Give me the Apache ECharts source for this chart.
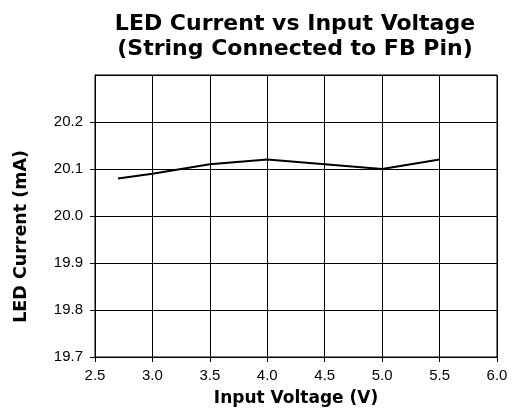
<!DOCTYPE html>
<html><head><meta charset="utf-8">
<script src="https://cdn.jsdelivr.net/npm/echarts@6/dist/echarts.min.js"></script>
<style>html,body{margin:0;padding:0;background:#fff}#c{width:513px;height:408px}</style>
</head><body><div id="c"></div>
<script>
const voltages = [2.7, 3.0, 3.5, 4.0, 4.5, 5.0, 5.5];
const currents = [20.08, 20.09, 20.11, 20.12, 20.11, 20.10, 20.12];
const titleLines = ['LED Current vs Input Voltage', '(String Connected to FB Pin)'];
const xName = 'Input Voltage (V)';
const yName = 'LED Current (mA)';

const chart = echarts.init(document.getElementById('c'), null, {renderer: 'canvas'});
const font = 'Liberation Sans, Arial, sans-serif';
const boldFont = 'DejaVu Sans, sans-serif';
chart.setOption({
  animation: false,
  backgroundColor: '#fff',
  title: {
    text: titleLines.join('\n'),
    left: 290, top: 7, textAlign: 'center',
    textStyle: {fontFamily: boldFont, fontSize: 22, fontWeight: 'bold', color: '#000', lineHeight: 25}
  },
  grid: {left: 95, top: 75, right: 16, bottom: 51, show: true, borderColor: '#000', borderWidth: 1,
         containLabel: false, outerBoundsMode: 'none'},
  xAxis: {
    type: 'value', min: 2.5, max: 6.0, interval: 0.5,
    name: xName, nameLocation: 'middle', nameGap: 33,
    nameTextStyle: {fontFamily: boldFont, fontSize: 17, fontWeight: 'bold', color: '#000'},
    axisLine: {lineStyle: {color: '#000'}},
    axisTick: {show: true, length: 5, lineStyle: {color: '#000'}},
    axisLabel: {fontFamily: font, fontSize: 15, color: '#000', margin: 11, formatter: v => v.toFixed(1)},
    splitLine: {show: true, lineStyle: {color: '#000', width: 1}}
  },
  yAxis: {
    type: 'value', min: 19.7, max: 20.3, interval: 0.1,
    axisLine: {show: true, lineStyle: {color: '#000'}},
    axisTick: {show: true, length: 5, lineStyle: {color: '#000'}},
    axisLabel: {fontFamily: font, fontSize: 15, color: '#000', margin: 12, showMaxLabel: false, formatter: v => v.toFixed(1)},
    splitLine: {show: true, lineStyle: {color: '#000', width: 1}}
  },
  graphic: [{
    type: 'text', left: 12, top: 150, rotation: Math.PI / 2,
    style: {text: yName, font: 'bold 17.5px ' + boldFont, fill: '#000'}
  }],
  series: [{
    type: 'line', data: voltages.map((v, i) => [v, currents[i]]),
    showSymbol: false, symbol: 'none',
    lineStyle: {color: '#000', width: 2}
  }]
});
</script></body></html>
